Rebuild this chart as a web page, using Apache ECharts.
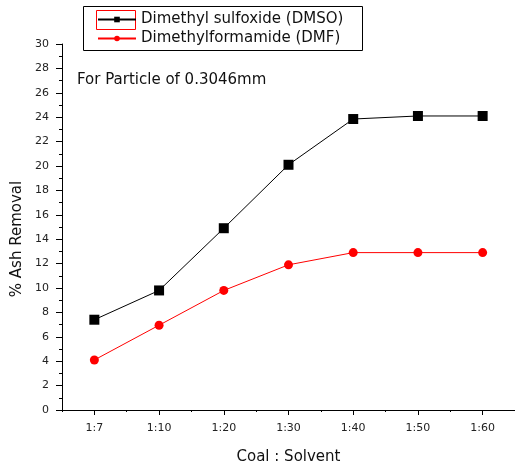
<!DOCTYPE html>
<html><head><meta charset="utf-8">
<script src="https://cdn.jsdelivr.net/npm/echarts@6/dist/echarts.min.js"></script>
<style>html,body{margin:0;padding:0;background:#fff}#c{width:515px;height:470px}</style>
</head><body><div id="c"></div>
<script>
const categories = ['1:7','1:10','1:20','1:30','1:40','1:50','1:60'];
const dmso = [7.4, 9.8, 14.9, 20.1, 23.85, 24.1, 24.1];
const dmf = [4.1, 6.95, 9.8, 11.9, 12.9, 12.9, 12.9];
const yTicks = {min: 0, max: 30, interval: 2};

const chart = echarts.init(document.getElementById('c'));
const font = '"DejaVu Sans", Verdana, sans-serif';
chart.setOption({
  animation: false,
  grid: {left: 62, top: 44, width: 456, height: 370, containLabel: false},
  legend: {
    orient: 'vertical', left: 97, top: 12, padding: 0, itemGap: 4,
    itemWidth: 38, itemHeight: 7,
    textStyle: {fontFamily: font, fontSize: 15, color: '#111'},
    data: ['Dimethyl sulfoxide (DMSO)', 'Dimethylformamide (DMF)']
  },
  xAxis: [{
    type: 'category', data: categories, boundaryGap: true,
    name: 'Coal : Solvent', nameLocation: 'middle', nameGap: 40,
    nameTextStyle: {fontFamily: font, fontSize: 15, color: '#111'},
    axisLine: {lineStyle: {color: '#000', width: 1}},
    axisTick: {show: true, interval: 0, length: 2, lineStyle: {color: '#000'}},
    axisLabel: {fontFamily: font, fontSize: 11, color: '#222', margin: 13, interval: 0},
    splitLine: {show: false}
  }, {
    type: 'category', data: categories, boundaryGap: true, position: 'bottom',
    axisLine: {show: false},
    axisTick: {show: true, interval: 0, alignWithLabel: true, length: 5, lineStyle: {color: '#000'}},
    axisLabel: {show: false},
    splitLine: {show: false}
  }],
  yAxis: {
    type: 'value', min: yTicks.min, max: yTicks.max, interval: yTicks.interval,
    axisLine: {show: true, lineStyle: {color: '#000', width: 1}},
    axisTick: {show: true, length: 6, lineStyle: {color: '#000'}},
    minorTick: {show: true, splitNumber: 2, length: 3, lineStyle: {color: '#000'}},
    axisLabel: {fontFamily: font, fontSize: 11, color: '#222', margin: 13},
    splitLine: {show: false}
  },
  series: [
    {name: 'Dimethyl sulfoxide (DMSO)', type: 'line', data: dmso,
     symbol: 'rect', symbolSize: 10,
     itemStyle: {color: '#000'}, lineStyle: {color: '#000', width: 1}},
    {name: 'Dimethylformamide (DMF)', type: 'line', data: dmf,
     symbol: 'circle', symbolSize: 9,
     itemStyle: {color: '#ff0000'}, lineStyle: {color: '#ff0000', width: 1}}
  ],
  graphic: [
    {type: 'rect', shape: {x: 83.5, y: 6.5, width: 279, height: 44},
     style: {fill: 'none', stroke: '#000', lineWidth: 1}},
    {type: 'rect', shape: {x: 96.5, y: 10.5, width: 39, height: 19},
     style: {fill: 'none', stroke: '#ff0000', lineWidth: 1}},
    {type: 'text', left: 77, top: 73,
     style: {text: 'For Particle of 0.3046mm', font: '15px ' + font, fill: '#111'}},
    {type: 'text', x: 17, y: 239, rotation: Math.PI / 2,
     style: {text: '% Ash Removal', font: '15px ' + font, fill: '#111',
             align: 'center', verticalAlign: 'middle'}}
  ]
});
</script></body></html>
